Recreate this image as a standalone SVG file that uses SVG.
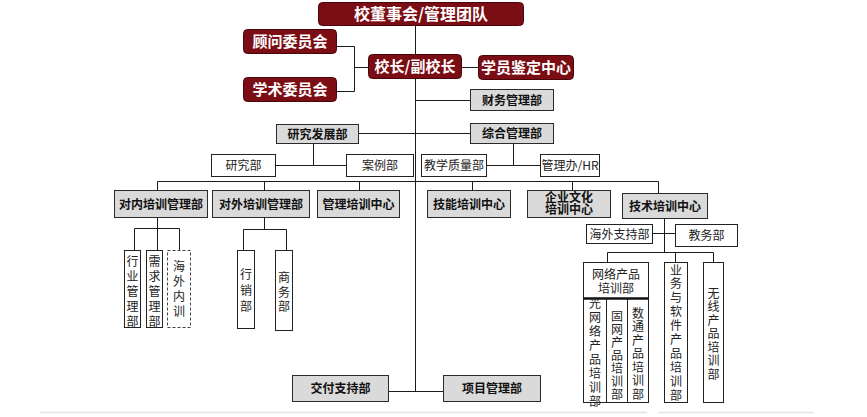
<svg xmlns="http://www.w3.org/2000/svg" width="867" height="417" viewBox="0 0 867 417">
<defs>
<style>
.red{fill:#7b0d15;stroke:#4a0509;stroke-width:1}
.rt{fill:#fff;font-family:"Noto Sans CJK SC","Noto Sans",sans-serif;font-weight:bold;text-anchor:middle}
.g{fill:#dadada;stroke:#2a2a2a;stroke-width:1}
.gt{fill:#111;font-family:"Noto Sans CJK SC","Noto Sans",sans-serif;font-weight:bold;font-size:12px;text-anchor:middle}
.w{fill:#fff;stroke:#222;stroke-width:1}
.wd{fill:#fff;stroke:#444;stroke-width:1;stroke-dasharray:3 2}
.wt{fill:#222;font-family:"Noto Sans CJK SC","Noto Sans",sans-serif;font-size:12px;text-anchor:middle}
.c line,.c polyline{stroke:#1a1a1a;stroke-width:1;fill:none}
</style>
</defs>
<rect width="867" height="417" fill="#fff"/>
<g id="page-lines">
<line x1="40" y1="412.5" x2="647" y2="412.5" stroke="#e2e2e2" stroke-width="1.5"/>
<line x1="658" y1="412.5" x2="814" y2="412.5" stroke="#e2e2e2" stroke-width="1.5"/>
</g>
<g class="c" id="connectors">
<line x1="415.5" y1="25" x2="415.5" y2="54"/>
<line x1="415.5" y1="78" x2="415.5" y2="391.5"/>
<polyline points="336,46.5 354.5,46.5 354.5,91.5 336,91.5"/>
<line x1="354.5" y1="67.5" x2="368" y2="67.5"/>
<line x1="461" y1="67.5" x2="478" y2="67.5"/>
<line x1="415.5" y1="100.5" x2="470" y2="100.5"/>
<line x1="358" y1="133.5" x2="470" y2="133.5"/>
<line x1="313.5" y1="143" x2="313.5" y2="165.5"/>
<line x1="275" y1="165.5" x2="346" y2="165.5"/>
<line x1="513.5" y1="143" x2="513.5" y2="165.5"/>
<line x1="486" y1="165.5" x2="540" y2="165.5"/>
<line x1="157.5" y1="181.5" x2="658.5" y2="181.5"/>
<line x1="157.5" y1="181.5" x2="157.5" y2="190"/>
<line x1="264.5" y1="181.5" x2="264.5" y2="190"/>
<line x1="359.5" y1="181.5" x2="359.5" y2="190"/>
<line x1="472.5" y1="181.5" x2="472.5" y2="190"/>
<line x1="572.5" y1="181.5" x2="572.5" y2="190"/>
<line x1="658.5" y1="181.5" x2="658.5" y2="193"/>
<line x1="157.5" y1="217" x2="157.5" y2="250"/>
<polyline points="134.5,250 134.5,228.5 179.5,228.5 179.5,250"/>
<line x1="264.5" y1="217" x2="264.5" y2="229.5"/>
<polyline points="243.5,250 243.5,229.5 286.5,229.5 286.5,250"/>
<line x1="664.5" y1="218" x2="664.5" y2="252.5"/>
<line x1="652" y1="233.5" x2="675" y2="233.5"/>
<polyline points="607.5,262 607.5,252.5 713.5,252.5 713.5,262"/>
<line x1="675.5" y1="252.5" x2="675.5" y2="262"/>
<line x1="388" y1="391.5" x2="443" y2="391.5"/>
</g>
<g id="n-board"><rect class="red" x="318.5" y="2.5" width="205" height="23" rx="4"/><text class="rt" x="421" y="19.5" font-size="16">校董事会/管理团队</text></g>
<g id="n-advisory"><rect class="red" x="243.5" y="29.5" width="93" height="24" rx="4"/><text class="rt" x="290" y="47" font-size="15">顾问委员会</text></g>
<g id="n-academic"><rect class="red" x="243.5" y="77.5" width="93" height="24" rx="4"/><text class="rt" x="290" y="95" font-size="15">学术委员会</text></g>
<g id="n-president"><rect class="red" x="368.5" y="54.5" width="93" height="24" rx="4"/><text class="rt" x="415" y="72" font-size="15">校长/副校长</text></g>
<g id="n-assess"><rect class="red" x="478.5" y="55.5" width="95" height="24" rx="4"/><text class="rt" x="526" y="73" font-size="15">学员鉴定中心</text></g>
<g id="n-finance"><rect class="g" x="470.5" y="89.5" width="83" height="21"/><text class="gt" x="512" y="104.5">财务管理部</text></g>
<g id="n-rnd"><rect class="g" x="276.5" y="124.5" width="82" height="19"/><text class="gt" x="317.5" y="138.5">研究发展部</text></g>
<g id="n-general"><rect class="g" x="470.5" y="123.5" width="83" height="20"/><text class="gt" x="512" y="138">综合管理部</text></g>
<g id="n-research"><rect class="w" x="211.5" y="154.5" width="64" height="22"/><text class="wt" x="243.5" y="170">研究部</text></g>
<g id="n-case"><rect class="w" x="346.5" y="154.5" width="67" height="22"/><text class="wt" x="380" y="170">案例部</text></g>
<g id="n-quality"><rect class="w" x="421.5" y="154.5" width="65" height="22"/><text class="wt" x="454" y="170">教学质量部</text></g>
<g id="n-hr"><rect class="w" x="540.5" y="154.5" width="59" height="22"/><text class="wt" x="570" y="170">管理办/HR</text></g>
<g id="n-internal"><rect class="g" x="114.5" y="190.5" width="93" height="27"/><text class="gt" x="161" y="208.5">对内培训管理部</text></g>
<g id="n-external"><rect class="g" x="212.5" y="190.5" width="97" height="27"/><text class="gt" x="261" y="208.5">对外培训管理部</text></g>
<g id="n-mgmt"><rect class="g" x="317.5" y="190.5" width="82" height="27"/><text class="gt" x="358.5" y="208.5">管理培训中心</text></g>
<g id="n-skill"><rect class="g" x="427.5" y="190.5" width="83" height="27"/><text class="gt" x="469" y="208.5">技能培训中心</text></g>
<g id="n-culture"><rect class="g" x="527.5" y="190.5" width="83" height="27"/><text class="gt" x="569" y="201.5" font-size="11">企业文化</text><text class="gt" x="569" y="214" font-size="11">培训中心</text></g>
<g id="n-tech"><rect class="g" x="622.5" y="193.5" width="85" height="25"/><text class="gt" x="665" y="210.5">技术培训中心</text></g>
<g id="n-industry"><rect class="w" x="124.5" y="250.5" width="16" height="77"/><text class="wt"><tspan x="132.5" y="265.5">行</tspan><tspan x="132.5" y="280.5">业</tspan><tspan x="132.5" y="295.5">管</tspan><tspan x="132.5" y="310.5">理</tspan><tspan x="132.5" y="325.5">部</tspan></text></g>
<g id="n-demand"><rect class="w" x="146.5" y="250.5" width="16" height="77"/><text class="wt"><tspan x="154.5" y="265.5">需</tspan><tspan x="154.5" y="280.5">求</tspan><tspan x="154.5" y="295.5">管</tspan><tspan x="154.5" y="310.5">理</tspan><tspan x="154.5" y="325.5">部</tspan></text></g>
<g id="n-overseas-int"><rect class="wd" x="167.5" y="250.5" width="23" height="77"/><text class="wt"><tspan x="179" y="271">海</tspan><tspan x="179" y="286">外</tspan><tspan x="179" y="301">内</tspan><tspan x="179" y="316">训</tspan></text></g>
<g id="n-marketing"><rect class="w" x="237.5" y="250.5" width="17" height="78"/><text class="wt"><tspan x="246" y="278.5">行</tspan><tspan x="246" y="294.5">销</tspan><tspan x="246" y="310.5">部</tspan></text></g>
<g id="n-business"><rect class="w" x="275.5" y="250.5" width="17" height="80"/><text class="wt"><tspan x="284" y="282">商</tspan><tspan x="284" y="296.5">务</tspan><tspan x="284" y="311">部</tspan></text></g>
<g id="n-overseas-sup"><rect class="w" x="586.5" y="224.5" width="66" height="19"/><text class="wt" x="619.5" y="238.5">海外支持部</text></g>
<g id="n-academic-aff"><rect class="w" x="675.5" y="224.5" width="62" height="22"/><text class="wt" x="706.5" y="240">教务部</text></g>
<g id="n-network"><rect class="w" x="583.5" y="262.5" width="65" height="36"/><text class="wt" x="616" y="279" font-size="11.5">网络产品</text><text class="wt" x="616" y="293" font-size="11.5">培训部</text>
<rect class="w" x="583.5" y="298.5" width="23" height="104"/><rect class="w" x="606.5" y="298.5" width="21" height="104"/><rect class="w" x="627.5" y="298.5" width="21" height="104"/>
<line x1="583" y1="298.5" x2="649" y2="298.5" stroke="#111" stroke-width="2.5"/>
<text class="wt"><tspan x="595" y="307.5">光</tspan><tspan x="595" y="321.5">网</tspan><tspan x="595" y="335.5">络</tspan><tspan x="595" y="349.5">产</tspan><tspan x="595" y="363.5">品</tspan><tspan x="595" y="377.5">培</tspan><tspan x="595" y="391.5">训</tspan><tspan x="595" y="405.5">部</tspan></text>
<text class="wt"><tspan x="617" y="320.5">固</tspan><tspan x="617" y="333.5">网</tspan><tspan x="617" y="346.5">产</tspan><tspan x="617" y="359.5">品</tspan><tspan x="617" y="372.5">培</tspan><tspan x="617" y="385.5">训</tspan><tspan x="617" y="398.5">部</tspan></text>
<text class="wt"><tspan x="638" y="317.5">数</tspan><tspan x="638" y="331">通</tspan><tspan x="638" y="344.5">产</tspan><tspan x="638" y="358">品</tspan><tspan x="638" y="371.5">培</tspan><tspan x="638" y="385">训</tspan><tspan x="638" y="398.5">部</tspan></text></g>
<g id="n-software"><rect class="w" x="664.5" y="262.5" width="23" height="140"/><text class="wt"><tspan x="676" y="274.5">业</tspan><tspan x="676" y="288.4">务</tspan><tspan x="676" y="302.3">与</tspan><tspan x="676" y="316.2">软</tspan><tspan x="676" y="330.1">件</tspan><tspan x="676" y="344">产</tspan><tspan x="676" y="357.9">品</tspan><tspan x="676" y="371.8">培</tspan><tspan x="676" y="385.7">训</tspan><tspan x="676" y="399.6">部</tspan></text></g>
<g id="n-wireless"><rect class="w" x="703.5" y="262.5" width="20" height="140"/><text class="wt"><tspan x="713.5" y="297.5">无</tspan><tspan x="713.5" y="311">线</tspan><tspan x="713.5" y="324.5">产</tspan><tspan x="713.5" y="338">品</tspan><tspan x="713.5" y="351.5">培</tspan><tspan x="713.5" y="365">训</tspan><tspan x="713.5" y="378.5">部</tspan></text></g>
<g id="n-delivery"><rect class="g" x="292.5" y="375.5" width="96" height="26"/><text class="gt" x="340.5" y="393">交付支持部</text></g>
<g id="n-project"><rect class="g" x="443.5" y="375.5" width="97" height="26"/><text class="gt" x="492" y="393">项目管理部</text></g>
</svg>
